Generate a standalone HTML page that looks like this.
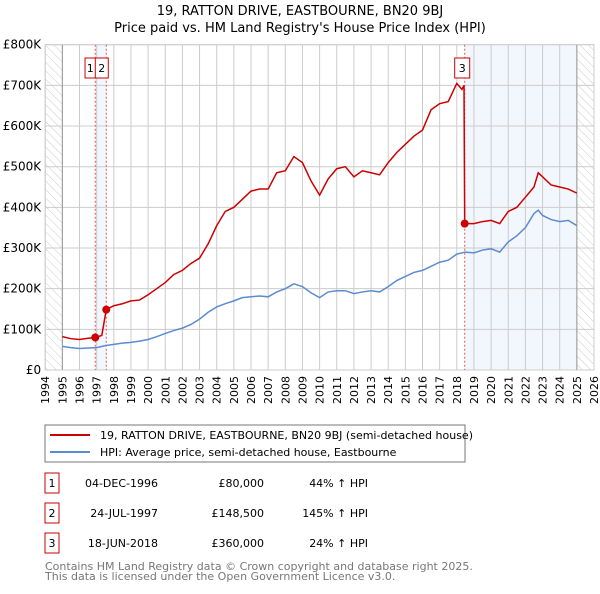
<!DOCTYPE html>
<html><head><meta charset="utf-8"><style>
body{margin:0;background:#fff;font-family:"DejaVu Sans","Liberation Sans",sans-serif;}
svg text{font-family:"DejaVu Sans","Liberation Sans",sans-serif;}
</style></head><body>
<svg id="c" width="600" height="590" xmlns="http://www.w3.org/2000/svg">
<defs><pattern id="hatch" width="6" height="6" patternUnits="userSpaceOnUse" patternTransform="rotate(-45)"><line x1="0" y1="0" x2="0" y2="6" stroke="#ccc" stroke-width="1"/></pattern></defs>
<text x="300" y="15" text-anchor="middle" font-size="13">19, RATTON DRIVE, EASTBOURNE, BN20 9BJ</text>
<text x="300" y="32" text-anchor="middle" font-size="13">Price paid vs. HM Land Registry's House Price Index (HPI)</text>
<g id="plot"></g>
<rect x="45" y="425" width="420" height="37" fill="#fff" stroke="#777"/>
<line x1="50" y1="435" x2="90" y2="435" stroke="#cc0000" stroke-width="2"/>
<text x="100" y="439" font-size="11">19, RATTON DRIVE, EASTBOURNE, BN20 9BJ (semi-detached house)</text>
<line x1="50" y1="452" x2="90" y2="452" stroke="#5b8bd0" stroke-width="2"/>
<text x="100" y="456" font-size="11">HPI: Average price, semi-detached house, Eastbourne</text>
<g id="table" font-size="11"></g>
<text x="45" y="570" font-size="11" fill="#777">Contains HM Land Registry data © Crown copyright and database right 2025.</text>
<text x="45" y="580" font-size="11" fill="#777">This data is licensed under the Open Government Licence v3.0.</text>
</svg>
<script>
const hpiYears=[1995,1995.5,1996,1996.5,1997,1997.5,1998,1998.5,1999,1999.5,2000,2000.5,2001,2001.5,2002,2002.5,2003,2003.5,2004,2004.5,2005,2005.5,2006,2006.5,2007,2007.5,2008,2008.5,2009,2009.5,2010,2010.5,2011,2011.5,2012,2012.5,2013,2013.5,2014,2014.5,2015,2015.5,2016,2016.5,2017,2017.5,2018,2018.5,2019,2019.5,2020,2020.5,2021,2021.5,2022,2022.5,2022.75,2023,2023.5,2024,2024.5,2025];
const hpiValues=[58,55,53,54,55,60,63,66,68,71,75,82,90,97,103,112,125,142,155,163,170,178,180,182,180,192,200,212,205,190,178,192,195,195,188,192,195,192,205,220,230,240,245,255,265,270,285,290,288,295,298,290,315,330,350,385,393,380,370,365,368,355];
const priceYears=[1995,1995.5,1996,1996.5,1996.92,1997.3,1997.56,1998,1998.5,1999,1999.5,2000,2000.5,2001,2001.5,2002,2002.5,2003,2003.5,2004,2004.5,2005,2005.5,2006,2006.5,2007,2007.5,2008,2008.5,2009,2009.5,2010,2010.5,2011,2011.5,2012,2012.5,2013,2013.5,2014,2014.5,2015,2015.5,2016,2016.5,2017,2017.5,2018,2018.3,2018.42,2018.46,2019,2019.5,2020,2020.5,2021,2021.5,2022,2022.5,2022.75,2023,2023.5,2024,2024.5,2025];
const priceValues=[82,77,75,78,80,85,148.5,158,163,170,172,185,200,215,235,245,262,275,310,355,390,400,420,440,445,445,485,490,525,510,465,430,470,495,500,475,490,485,480,510,535,555,575,590,640,655,660,705,690,700,360,360,365,368,360,390,400,425,450,485,475,455,450,445,435];
const saleYears=[1996.92,1997.56,2018.46];
const saleValues=[80,148.5,360];
const saleLabels=["1","2","3"];
const saleDates=["04-DEC-1996","24-JUL-1997","18-JUN-2018"];
const salePrices=["£80,000","£148,500","£360,000"];
const saleHpi=["44% ↑ HPI","145% ↑ HPI","24% ↑ HPI"];
const yTicks=[0,100,200,300,400,500,600,700,800];
const yTickLabels=["£0","£100K","£200K","£300K","£400K","£500K","£600K","£700K","£800K"];
const xTicks=[1994,1995,1996,1997,1998,1999,2000,2001,2002,2003,2004,2005,2006,2007,2008,2009,2010,2011,2012,2013,2014,2015,2016,2017,2018,2019,2020,2021,2022,2023,2024,2025,2026];

const NS="http://www.w3.org/2000/svg";
const X0=45.2,X1=594,Y0=370,Y1=44.7;
const xs=y=>X0+(y-1994)/(2026-1994)*(X1-X0);
const ys=v=>Y0-v/800*(Y0-Y1);
const plot=document.getElementById('plot');
function mk(tag,attrs,parent){const e=document.createElementNS(NS,tag);for(const k in attrs)e.setAttribute(k,attrs[k]);(parent||plot).appendChild(e);return e;}
let e;
e=mk('rect',{x:X0,y:Y1,width:X1-X0,height:Y0-Y1,fill:'#fff',stroke:'#ccc'});


e=mk('rect',{x:X0,y:Y1,width:xs(1995)-X0,height:Y0-Y1,fill:'url(#hatch)'});


e=mk('rect',{x:xs(2025),y:Y1,width:X1-xs(2025),height:Y0-Y1,fill:'url(#hatch)'});


e=mk('rect',{x:xs(saleYears[0]),y:Y1,width:xs(saleYears[1])-xs(saleYears[0]),height:Y0-Y1,fill:'#f2f6fd'});


e=mk('rect',{x:xs(saleYears[2]),y:Y1,width:xs(2025)-xs(saleYears[2]),height:Y0-Y1,fill:'#f2f6fd'});


xTicks.forEach(t=>{
 e=mk('line',{x1:xs(t),y1:Y1,x2:xs(t),y2:Y0,stroke:'#ccc'});
 
 
 e=mk('text',{x:0,y:0,transform:`translate(${xs(t)+4},${Y0+6}) rotate(-90)`,'text-anchor':'end','font-size':11});
 e.textContent=t;
 
 
});
yTicks.forEach((t,i)=>{
 e=mk('line',{x1:X0,y1:ys(t),x2:X1,y2:ys(t),stroke:'#ccc'});
 
 
 e=mk('text',{x:X0-4,y:ys(t)+4,'text-anchor':'end','font-size':12});
 e.textContent=yTickLabels[i];
 
 
});
e=mk('line',{x1:xs(1995),y1:Y1,x2:xs(1995),y2:Y0,stroke:'#999'});


e=mk('line',{x1:xs(2025),y1:Y1,x2:xs(2025),y2:Y0,stroke:'#999'});


saleYears.forEach(s=>{
 e=mk('line',{x1:xs(s),y1:Y1,x2:xs(s),y2:Y0,stroke:'#e55','stroke-dasharray':'2,2'});
 
 
});
e=mk('polyline',{points:hpiYears.map((y,i)=>xs(y)+','+ys(hpiValues[i])).join(' '),fill:'none',stroke:'#5b8bd0','stroke-width':1.5});


e=mk('polyline',{points:priceYears.map((y,i)=>xs(y)+','+ys(priceValues[i])).join(' '),fill:'none',stroke:'#cc0000','stroke-width':1.5});


const labelX=[xs(saleYears[0])-5,xs(saleYears[0])+6.5,xs(saleYears[2])-2.5];
const labelW=[10.5,13,15];
saleYears.forEach((s,i)=>{
 e=mk('circle',{cx:xs(s),cy:ys(saleValues[i]),r:4,fill:'#cc0000'});
 
 
 e=mk('rect',{x:labelX[i]-labelW[i]/2,y:58,width:labelW[i],height:20,fill:'#fff',stroke:'#cc0000'});
 
 
 e=mk('text',{x:labelX[i],y:72,'text-anchor':'middle','font-size':11});
 e.textContent=saleLabels[i];
 
 
});
const tbl=document.getElementById('table');
saleLabels.forEach((l,i)=>{
 const cy=483+i*30;
 e=mk('rect',{x:45,y:cy-10,width:14,height:20,fill:'#fff',stroke:'#cc0000'},tbl);
 
 
 e=mk('text',{x:52,y:cy+4,'text-anchor':'middle'},tbl);e.textContent=l;
 
 
 e=mk('text',{x:158,y:cy+4,'text-anchor':'end'},tbl);e.textContent=saleDates[i];
 
 
 e=mk('text',{x:264,y:cy+4,'text-anchor':'end'},tbl);e.textContent=salePrices[i];
 
 
 e=mk('text',{x:368,y:cy+4,'text-anchor':'end'},tbl);e.textContent=saleHpi[i];
 
 
});
</script>
</body></html>
